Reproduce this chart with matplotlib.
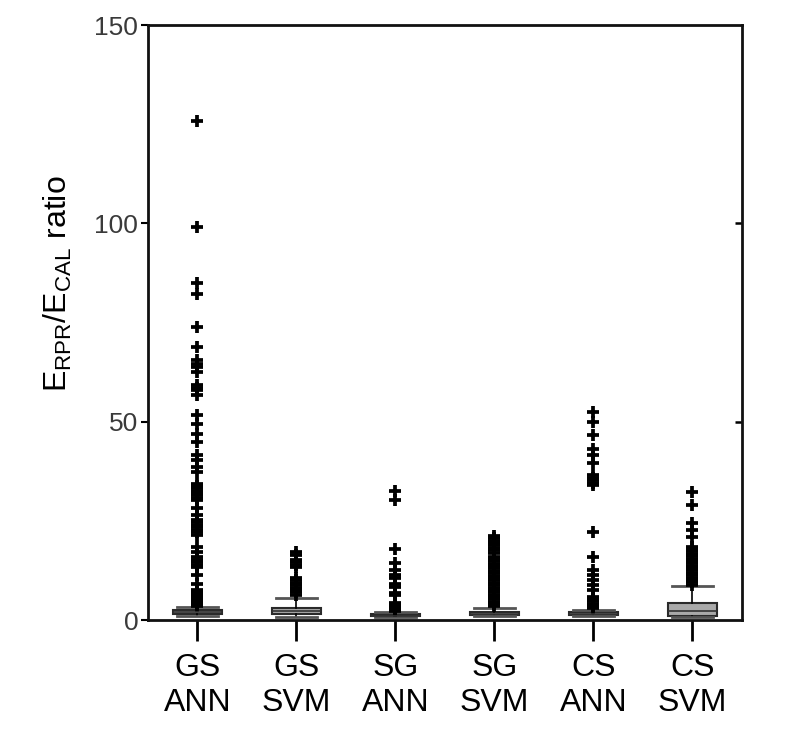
import matplotlib
matplotlib.use("Agg")
import matplotlib.pyplot as plt

plt.rcParams['font.family'] = ['Liberation Sans', 'DejaVu Sans']
plt.rcParams['mathtext.fontset'] = 'custom'
plt.rcParams['mathtext.rm'] = 'Liberation Sans'
plt.rcParams['mathtext.it'] = 'Liberation Sans'

categories = ["GS\nANN", "GS\nSVM", "SG\nANN", "SG\nSVM", "CS\nANN", "CS\nSVM"]

# box statistics: lower whisker, Q1, median, Q3, upper whisker
whis_lo = [1.0, 0.8, 0.7, 1.0, 1.0, 0.8]
q1 = [1.4, 1.4, 0.9, 1.2, 1.2, 1.0]
median = [1.9, 2.2, 1.1, 1.6, 1.5, 2.3]
q3 = [2.5, 3.1, 1.4, 2.1, 2.0, 4.2]
whis_hi = [3.3, 5.6, 1.9, 3.1, 2.5, 8.6]

fliers_gs_ann = [125.8, 99.1, 85.0, 82.3, 73.9, 68.8, 65.5, 64.5, 63.8, 62.5,
                 59.2, 58.5, 57.9, 56.7, 51.6, 49.5, 47.0, 44.9, 41.6, 40.3,
                 38.6, 37.4, 34.4, 33.8, 33.2, 32.6, 32.0, 31.4, 30.8, 30.2,
                 28.2, 26.4, 25.2, 24.6, 24.0, 23.4, 22.8, 22.2, 21.4, 18.5,
                 17.2, 15.9, 15.2, 14.6, 14.0, 13.4, 11.3, 9.2, 7.5, 7.0,
                 6.5, 6.0, 5.5, 5.0, 4.5, 4.0, 3.6]
fliers_gs_svm = [17.2, 16.4, 15.2, 14.6, 14.0, 13.4, 10.6, 10.0, 9.4, 8.8,
                 8.2, 7.6, 7.0, 6.4]
fliers_sg_ann = [32.6, 30.2, 17.8, 14.3, 12.6, 11.3, 10.5, 9.2, 8.3, 6.9,
                 6.3, 4.3, 3.8, 3.3, 2.8, 2.3]
fliers_sg_svm = [21.2, 20.6, 20.0, 19.4, 18.8, 18.2, 17.6, 17.0, 16.0, 15.4,
                 14.8, 14.2, 13.6, 13.0, 12.4, 11.8, 11.2, 10.6, 10.0, 9.4,
                 8.8, 8.2, 7.6, 7.0, 6.4, 5.8, 5.2, 4.6, 4.0, 3.5]
fliers_cs_ann = [52.5, 50.0, 46.6, 43.0, 41.6, 39.5, 36.5, 35.8, 35.2, 34.6,
                 34.0, 22.2, 15.9, 12.6, 11.3, 10.1, 8.8, 7.6, 5.9, 5.3,
                 4.7, 4.1, 3.5, 3.0]
fliers_cs_svm = [32.3, 29.0, 24.4, 22.7, 21.0, 18.5, 17.9, 17.3, 16.7, 16.1,
                 15.5, 14.9, 14.3, 13.7, 13.1, 12.5, 11.9, 11.3, 10.7, 10.1,
                 9.5, 8.9]
fliers = [fliers_gs_ann, fliers_gs_svm, fliers_sg_ann, fliers_sg_svm,
          fliers_cs_ann, fliers_cs_svm]

yticks = [0, 50, 100, 150]

stats = []
for i, lab in enumerate(categories):
    stats.append(dict(label=lab, whislo=whis_lo[i], q1=q1[i], med=median[i],
                      q3=q3[i], whishi=whis_hi[i], fliers=fliers[i]))

fig = plt.figure(figsize=(7.87, 7.43), dpi=100)
ax = fig.add_axes([0.188, 0.1655, 0.7548, 0.8008])

ax.bxp(stats, positions=range(1, 7), widths=0.5, patch_artist=True,
       boxprops=dict(facecolor='#a9a9a9', edgecolor='#2a2a2a', linewidth=1.5),
       medianprops=dict(color='#333333', linewidth=1.2),
       whiskerprops=dict(color='black', linewidth=1.2),
       capprops=dict(color='#555555', linewidth=2.0),
       capwidths=0.42,
       flierprops=dict(marker='+', markersize=8.5, markeredgewidth=2.7,
                       markeredgecolor='black', linestyle='none'))

ax.set_xlim(0.5, 6.5)
ax.set_ylim(0, 150)
ax.set_yticks(yticks)
ax.set_yticklabels([str(t) for t in yticks], fontsize=19, color='#3a3a3a')
ax.set_xticks(range(1, 7))
ax.set_xticklabels(categories, fontsize=23, linespacing=1.2)

for sp in ax.spines.values():
    sp.set_linewidth(2.0)
    sp.set_color('#111111')

ax.tick_params(axis='x', direction='out', length=15, width=2, pad=9)
ax.tick_params(axis='y', direction='out', length=5, width=1.5, pad=2,
               right=False, labelright=False)
sec = ax.secondary_yaxis('right')
sec.set_yticks([50, 100])
sec.tick_params(direction='in', length=5, width=1.8, labelright=False)
sec.spines['right'].set_visible(False)

ax.set_ylabel(r"E$_{\mathrm{RPR}}$/E$_{\mathrm{CAL}}$ ratio", fontsize=23)
ax.yaxis.set_label_coords(-0.125, 0.566)

fig.savefig("out.png", dpi=100)
